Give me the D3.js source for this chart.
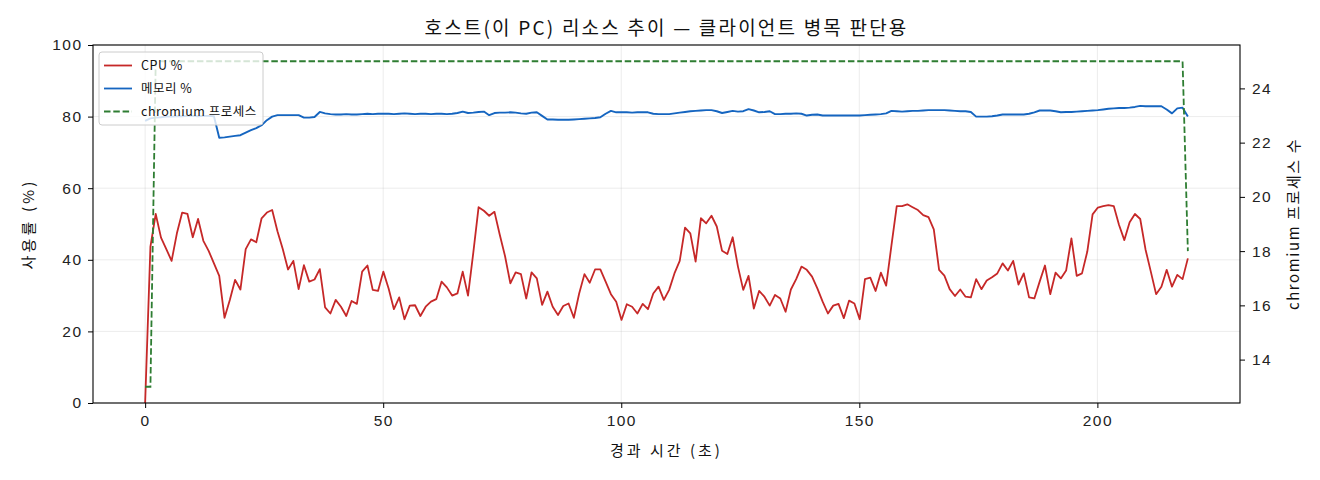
<!DOCTYPE html>
<html>
<head>
<meta charset="utf-8">
<script src="https://cdn.jsdelivr.net/npm/d3@7"></script>
<style>
  html, body { margin: 0; padding: 0; background: #fff; }
  svg { display: block; font-family: "Noto Sans CJK KR", "Noto Sans", sans-serif; }
  .tick text { font-size: 15.5px; fill: #222; letter-spacing: 1.4px; }
</style>
</head>
<body>
<svg id="chart" width="1320" height="480"></svg>
<script>
// one sample roughly every 1.11 s
const SAMPLE_SEC = 1.1117;

const cpuPct = [
  0, 43.7, 52.8, 46.2, 43.0, 39.7, 47.4, 53.2, 52.8, 46.3, 51.4, 45.3,
  42.5, 39.0, 35.5, 23.8, 28.8, 34.4, 31.7, 43.0, 45.7, 44.9, 51.6, 53.2, 53.9,
  48.0, 43.0, 37.3, 39.7, 31.8, 38.5, 33.9, 34.5, 37.4, 26.7, 25.0, 28.8, 26.9, 24.3, 28.5, 27.7, 36.7, 38.4, 31.6, 31.3,
  36.7, 32.0, 26.2, 29.5, 23.4, 27.2, 27.3, 24.3, 26.9, 28.3, 29.0, 33.9, 32.3, 30.0, 30.6, 36.7, 30.0,
  42.0, 54.7, 53.7, 52.3, 53.4, 47.0, 41.0, 33.4, 36.5, 36.0, 29.2, 36.5, 34.8, 27.4, 31.1, 26.9, 24.6, 27.1, 27.8, 23.8,
  30.6, 36.0, 33.6, 37.3, 37.3, 33.9, 30.4, 28.3, 23.2,
  27.6, 26.9, 25.0, 27.7, 26.2, 30.6, 32.5, 28.8, 31.6, 36.2, 39.7, 49.0, 47.4, 39.5, 51.6,
  50.2, 52.3, 49.3, 42.5, 41.6, 46.3, 38.1, 31.6, 35.5, 26.4, 31.3, 29.7, 27.2, 30.2, 29.2,
  25.5, 31.7, 34.6, 38.1, 37.2, 35.3, 32.0, 28.3, 25.0, 27.2, 27.7, 23.7, 28.6, 27.8, 23.4,
  34.6, 35.0, 31.3, 36.4, 32.8, 44.0, 55.0, 55.0, 55.5, 54.7, 53.9, 52.5, 51.9, 48.5, 37.2,
  35.6, 31.8, 29.9, 31.7, 29.7, 29.5, 34.6, 31.8, 34.2, 35.1, 36.2, 39.0, 37.0, 39.7, 33.1,
  36.2, 29.5, 29.2, 33.9, 38.4, 30.4, 36.4, 34.8, 37.0, 46.0, 35.5, 36.2, 42.3, 52.7, 54.6,
  55.0, 55.3, 55.0, 49.7, 45.5, 50.5, 52.8, 51.4, 42.9, 36.7, 30.4, 32.5, 37.2, 32.5, 35.8,
  34.6, 40.4
];

const memPct = [
  78.8, 79.5, 79.7, 79.8, 80.0, 80.0,
  80.1, 80.1, 80.2, 80.2, 80.1, 80.2, 80.2, 80.1,
  74.1, 74.2, 74.4, 74.6, 74.8, 75.5, 76.2, 76.8, 77.6, 79.0, 80.0,
  80.4, 80.4, 80.4, 80.4, 80.4, 79.7, 79.7, 79.9,
  81.3, 80.9, 80.7, 80.6, 80.6, 80.7, 80.6, 80.6, 80.7, 80.8, 80.7, 80.8, 80.8,
  80.8, 80.7, 80.8, 80.9, 80.8, 80.7, 80.8, 80.8, 80.7, 80.8, 80.8, 80.7, 80.8,
  81.0, 81.4, 81.0, 81.1, 81.3, 81.4, 80.4, 81.0, 81.1, 81.1, 81.2, 81.1, 80.9, 80.8, 81.1, 81.2, 80.2,
  79.2, 79.2, 79.1, 79.1, 79.1, 79.2, 79.3, 79.4, 79.5, 79.6, 79.8, 80.8, 81.6, 81.2, 81.2,
  81.2, 81.1, 81.2, 81.2, 81.2, 80.8, 80.7, 80.7, 80.7, 80.9, 81.1, 81.3, 81.5, 81.6, 81.7,
  81.8, 81.8, 81.5, 81.0, 81.3, 81.6, 81.4, 81.5, 82.1, 81.7, 81.2, 81.3, 81.5, 80.7, 80.7,
  80.8, 80.8, 80.9, 80.8, 80.3, 80.5, 80.6, 80.3, 80.3, 80.3, 80.3, 80.3, 80.3, 80.3, 80.3,
  80.4, 80.5, 80.6, 80.7, 80.9, 81.6, 81.5, 81.4, 81.5, 81.6, 81.6, 81.7, 81.8, 81.8, 81.8,
  81.8, 81.7, 81.6, 81.5, 81.5, 81.3, 80.0, 80.0, 80.0, 80.1, 80.3, 80.6, 80.6, 80.6, 80.6,
  80.6, 80.8, 81.2, 81.7, 81.7, 81.7, 81.5, 81.2, 81.3, 81.3, 81.4, 81.5, 81.6, 81.7, 81.8,
  82.0, 82.2, 82.3, 82.4, 82.4, 82.5, 82.7, 83.0, 82.9, 82.9, 82.9, 82.9, 82.0, 80.9, 82.3, 82.5, 80.0
];

// chromium process count only changes at these sample indices
const procSampleIdx = [0, 1, 2, 196, 197];
const procCount = [13, 13, 25, 25, 18];

const xTicks = [0, 50, 100, 150, 200];
const leftTicks = [0, 20, 40, 60, 80, 100];
const rightTicks = [14, 16, 18, 20, 22, 24];

const titleText = "호스트(이 PC) 리소스 추이 — 클라이언트 병목 판단용";
const xLabel = "경과 시간 (초)";
const leftLabel = "사용률 (%)";
const rightLabel = "chromium 프로세스 수";
const seriesNames = ["CPU %", "메모리 %", "chromium 프로세스"];
const colors = { cpu: "#c62828", mem: "#1565c0", proc: "#2e7d32" };

const W = 1320, H = 480;
const margin = { top: 45, right: 80, bottom: 77, left: 93 };
const iw = W - margin.left - margin.right;
const ih = H - margin.top - margin.bottom;

const svg = d3.select("#chart");
const g = svg.append("g").attr("transform", `translate(${margin.left},${margin.top})`);

const t = i => i * SAMPLE_SEC;
const tMax = t(cpuPct.length - 1);

const x = d3.scaleLinear().domain([-0.05 * tMax, tMax * 1.05]).range([0, iw]);
const yL = d3.scaleLinear().domain([0, 100]).range([ih, 0]);
const pMin = d3.min(procCount), pMax = d3.max(procCount);
const pPad = (pMax - pMin) * 0.05;
const yR = d3.scaleLinear().domain([pMin - pPad, pMax + pPad]).range([ih, 0]);

// grid
const grid = g.append("g").attr("stroke", "#b0b0b0").attr("stroke-opacity", 0.3).attr("stroke-width", 0.8);
grid.selectAll("line.v").data(xTicks).join("line")
  .attr("x1", d => x(d)).attr("x2", d => x(d)).attr("y1", 0).attr("y2", ih);
grid.selectAll("line.h").data(leftTicks).join("line")
  .attr("x1", 0).attr("x2", iw).attr("y1", d => yL(d)).attr("y2", d => yL(d));

// lines
const seriesLine = d3.line().x((d, i) => x(t(i))).y(d => yL(d));
g.append("path").datum(cpuPct).attr("d", seriesLine)
  .attr("fill", "none").attr("stroke", colors.cpu).attr("stroke-width", 1.8).attr("stroke-linejoin", "round");

g.append("path").datum(memPct).attr("d", seriesLine)
  .attr("fill", "none").attr("stroke", colors.mem).attr("stroke-width", 1.9).attr("stroke-linejoin", "round");

const procLine = d3.line().x(d => x(t(d[0]))).y(d => yR(d[1]));
g.append("path").datum(d3.zip(procSampleIdx, procCount)).attr("d", procLine)
  .attr("fill", "none").attr("stroke", colors.proc).attr("stroke-width", 1.8)
  .attr("stroke-dasharray", "6.5,2.8");

// axes
const xAxis = g.append("g").attr("transform", `translate(0,${ih})`)
  .call(d3.axisBottom(x).tickValues(xTicks).tickSize(5).tickPadding(7));
const lAxis = g.append("g").call(d3.axisLeft(yL).tickValues(leftTicks).tickSize(5).tickPadding(7));
const rAxis = g.append("g").attr("transform", `translate(${iw},0)`)
  .call(d3.axisRight(yR).tickValues(rightTicks).tickSize(5).tickPadding(7));
[xAxis, lAxis, rAxis].forEach(a => {
  a.select(".domain").remove();
  a.selectAll(".tick line").attr("stroke", "#000").attr("stroke-width", 1);
});
lAxis.selectAll(".tick text").attr("dx", "1.4px");

// frame
g.append("rect").attr("width", iw).attr("height", ih)
  .attr("fill", "none").attr("stroke", "#000").attr("stroke-width", 1.1);

// labels
svg.append("text").attr("x", margin.left + iw / 2).attr("y", 35)
  .attr("text-anchor", "middle").attr("font-size", 19).attr("letter-spacing", 2.2)
  .attr("fill", "#111").text(titleText);
svg.append("text").attr("x", margin.left + iw / 2).attr("y", 456)
  .attr("text-anchor", "middle").attr("font-size", 15).attr("letter-spacing", 3)
  .attr("fill", "#111").text(xLabel);
svg.append("text").attr("transform", `translate(34,${margin.top + ih / 2}) rotate(-90)`)
  .attr("text-anchor", "middle").attr("font-size", 15).attr("letter-spacing", 3.2)
  .attr("fill", "#111").text(leftLabel);
svg.append("text").attr("transform", `translate(1299,${margin.top + ih / 2}) rotate(-90)`)
  .attr("text-anchor", "middle").attr("font-size", 15).attr("letter-spacing", 1.6)
  .attr("fill", "#111").text(rightLabel);

// legend
const legend = svg.append("g").attr("transform", "translate(99,52)");
legend.append("rect").attr("width", 164).attr("height", 73).attr("rx", 3)
  .attr("fill", "#fff").attr("fill-opacity", 0.8).attr("stroke", "#cccccc").attr("stroke-width", 1);
const legendItems = [
  { name: seriesNames[0], color: colors.cpu, dash: null },
  { name: seriesNames[1], color: colors.mem, dash: null },
  { name: seriesNames[2], color: colors.proc, dash: "6.5,2.8" }
];
const li = legend.selectAll("g.item").data(legendItems).join("g")
  .attr("transform", (d, i) => `translate(0,${13.5 + i * 23})`);
li.append("line").attr("x1", 5).attr("x2", 33).attr("y1", 0).attr("y2", 0)
  .attr("stroke", d => d.color).attr("stroke-width", 1.8)
  .attr("stroke-dasharray", d => d.dash);
li.append("text").attr("x", 42).attr("y", 4.5).attr("font-size", 12.5).attr("letter-spacing", 0.5)
  .attr("fill", "#111").text(d => d.name);
</script>
</body>
</html>
